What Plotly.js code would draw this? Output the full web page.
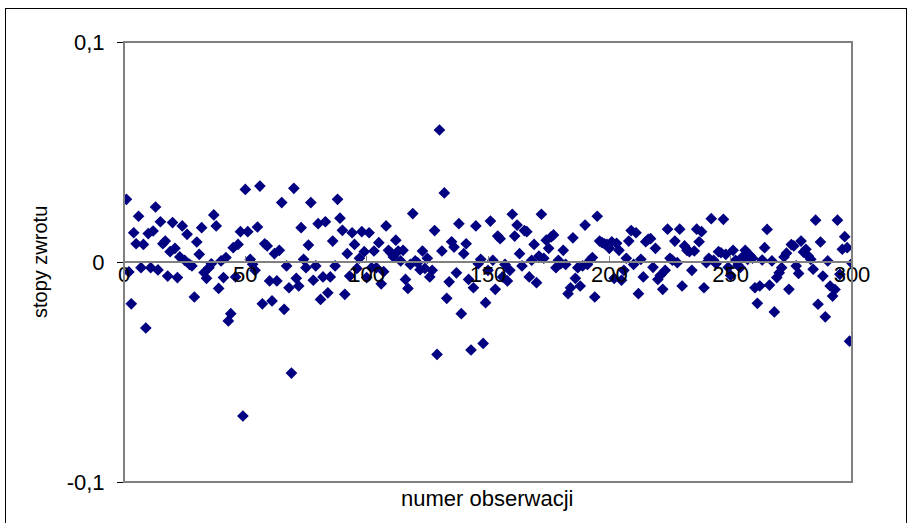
<!DOCTYPE html>
<html>
<head>
<meta charset="utf-8">
<script src="https://cdn.plot.ly/plotly-3.0.1.min.js"></script>
<style>
  html, body { margin: 0; padding: 0; background: #fff; }
  #wrap { position: relative; width: 911px; height: 523px; }
  #chart { width: 911px; height: 523px; }
  #frame { position: absolute; left: 5px; top: 8px; width: 902px; height: 520px;
           border: 1px solid #000; pointer-events: none; box-sizing: border-box; }
</style>
</head>
<body>
<div id="wrap">
  <div id="chart"></div>
  <div id="frame"></div>
</div>
<script>
// stopy zwrotu, obserwacje 1-49
const returnsA = [
  0.0285, -0.0045, -0.019, 0.0133, 0.0083, 0.0208, -0.0026, 0.008, -0.030, 0.0129,
  -0.0026, 0.0141, 0.025, -0.0036, 0.0183, 0.0083, 0.0095, -0.0064, 0.0047, 0.0179,
  0.0062, -0.0071, 0.0023, 0.0164, 0.0008, 0.0126, -0.0011, -0.0018, -0.0159, 0.0091,
  0.0035, 0.0156, -0.0048, -0.0074, -0.0026, -0.0008, 0.0214, 0.0164, -0.012, 0.0005,
  -0.0071, 0.002, -0.0268, -0.0235, 0.0065, -0.0068, 0.008, 0.0138, -0.07
];
// obserwacje 50-100
const returnsB = [
  0.033, 0.0138, 0.0012, -0.001, -0.0038, 0.0159, 0.0345, -0.019, 0.0083, 0.0073,
  -0.0086, -0.0177, 0.0038, -0.0086, 0.0053, 0.027, -0.0215, -0.0018, -0.0117, -0.0505,
  0.0335, -0.0074, -0.0109, 0.0156, 0.0012, -0.0026, 0.0077, 0.027, -0.0083, -0.0018,
  0.0174, -0.017, -0.0068, 0.0183, -0.014, -0.0068, 0.0095, -0.0018, 0.0285, 0.0199,
  0.0144, -0.0147, 0.0038, -0.0064, 0.0133, 0.008, -0.0029, 0.0017, 0.0138, 0.0047,
  -0.0071
];
// obserwacje 101-151
const returnsC = [
  0.0133, -0.0026, 0.005, -0.0026, 0.0088, -0.0099, -0.0044, 0.0164, 0.0053, 0.0042,
  0.0023, 0.0099, 0.005, 0.0005, 0.0053, -0.0079, -0.012, -0.0011, 0.022, 0.0005,
  -0.0003, -0.0035, 0.005, -0.0029, 0.0017, -0.0068, -0.0038, 0.0143, -0.042, 0.06,
  0.005, 0.0314, -0.0165, -0.009, 0.0092, 0.0068, -0.0049, 0.0174, -0.0235, 0.0038,
  0.0083, -0.0079, -0.04, -0.0117, 0.0164, -0.0008, 0.0012, -0.037, -0.0185, -0.0038,
  0.0186
];
// obserwacje 152-202
const returnsD = [
  0.0008, -0.0124, 0.0118, 0.0106, -0.0068, -0.0011, -0.0086, -0.0038, 0.0217, 0.0118,
  0.0168, 0.0038, -0.0018, 0.0143, 0.0138, -0.0068, 0.0008, 0.008, -0.0094, 0.0027,
  0.0217, 0.0017, 0.0099, 0.0062, 0.0114, 0.0123, -0.0026, 0.0008, -0.0008, 0.0053,
  -0.0011, -0.0144, -0.0117, 0.011, -0.0074, -0.0026, -0.0109, -0.0018, 0.0168, -0.0011,
  0.0008, 0.002, -0.0159, 0.0208, 0.0095, 0.0088, 0.0083, 0.008, 0.0062, 0.0092,
  -0.0074
];
// obserwacje 203-252
const returnsE = [
  0.0085, 0.0053, -0.0083, -0.0038, 0.0017, 0.0095, 0.0143, -0.0011, 0.0133, -0.0144,
  0.0012, -0.0068, 0.0092, 0.0103, 0.0106, -0.0024, 0.0062, -0.0079, -0.0061, -0.0124,
  -0.0038, 0.0149, 0.0017, 0.0008, 0.0095, -0.0003, 0.0149, -0.0109, 0.0073, 0.0053,
  0.0047, -0.0038, 0.005, 0.0149, 0.0092, 0.0138, -0.0117, -0.0003, 0.0017, 0.0197,
  0.0008, -0.0008, 0.0047, 0.0042, 0.0194, 0.0035, -0.0024, -0.0061, 0.0053, 0.0008
];
// obserwacje 253-300
const returnsF = [
  -0.0015, -0.0025, 0.0025, 0.0053, 0.0012, 0.003, 0.0017, -0.0117, -0.0188, -0.0109,
  0.0009, 0.0065, 0.0148, -0.0105, 0.0005, -0.0227, -0.0071, -0.0049, -0.0026, 0.0023,
  0.004, -0.0124, 0.0079, 0.0073, -0.0018, -0.0052, 0.0095, 0.0045, 0.0058, 0.0027,
  0.0012, -0.0033, 0.019, -0.0192, 0.0091, -0.0064, -0.0249, 0.0005, -0.0109, -0.0155,
  -0.0125, 0.019, -0.0056, 0.0058, 0.0115, 0.0065, -0.036, -0.0006
];

const xTickVals = [0, 50, 100, 150, 200, 250, 300];
const xTickText = ['0', '50', '100', '150', '200', '250', '300'];
const yTickVals = [-0.1, 0, 0.1];
const yTickText = ['-0,1', '0', '0,1'];
const xTitle = 'numer obserwacji';
const yTitle = 'stopy zwrotu';

const returns = [].concat(returnsA, returnsB, returnsC, returnsD, returnsE, returnsF);
const obs = returns.map((_, i) => i + 1);

const font = 'Arial, "Liberation Sans", sans-serif';

const trace = {
  type: 'scatter',
  mode: 'markers',
  x: obs,
  y: returns,
  marker: { symbol: 'diamond', size: 9, color: '#000080', line: { width: 0 } },
  hoverinfo: 'x+y'
};

const layout = {
  width: 911,
  height: 523,
  margin: { l: 124, r: 59, t: 42, b: 41 },
  paper_bgcolor: '#ffffff',
  plot_bgcolor: '#ffffff',
  showlegend: false,
  font: { family: font, color: '#000', size: 22 },
  xaxis: {
    range: [0, 300],
    anchor: 'free',
    position: 0.5,
    showline: true,
    linecolor: '#808080',
    linewidth: 2,
    showgrid: false,
    zeroline: false,
    tickmode: 'array',
    tickvals: xTickVals,
    ticktext: xTickText,
    ticks: 'inside',
    ticklen: 5,
    tickcolor: '#808080',
    ticklabelstandoff: -7,
    tickfont: { family: font, size: 22, color: '#000' },
    fixedrange: true
  },
  yaxis: {
    range: [-0.1, 0.1],
    showline: false,
    showgrid: false,
    zeroline: false,
    tickmode: 'array',
    tickvals: yTickVals,
    ticktext: yTickText,
    ticks: 'outside',
    ticklen: 6,
    tickcolor: '#000',
    ticklabelstandoff: 8,
    tickfont: { family: font, size: 22, color: '#000' },
    fixedrange: true
  },
  shapes: [
    { type: 'rect', xref: 'paper', yref: 'paper', x0: 0, x1: 1, y0: 0, y1: 1,
      line: { color: '#808080', width: 2 }, fillcolor: 'rgba(0,0,0,0)', layer: 'above' }
  ],
  annotations: [
    { text: xTitle, xref: 'paper', yref: 'paper', x: 0.499, y: -0.038,
      xanchor: 'center', yanchor: 'middle', showarrow: false,
      font: { family: font, size: 22, color: '#000' } },
    { text: yTitle, xref: 'paper', yref: 'paper', x: -0.1154, y: 0.5,
      xanchor: 'center', yanchor: 'middle', textangle: -90, showarrow: false,
      font: { family: font, size: 20, color: '#000' } }
  ]
};

Plotly.newPlot('chart', [trace], layout, { displayModeBar: false, staticPlot: true });
</script>
</body>
</html>
